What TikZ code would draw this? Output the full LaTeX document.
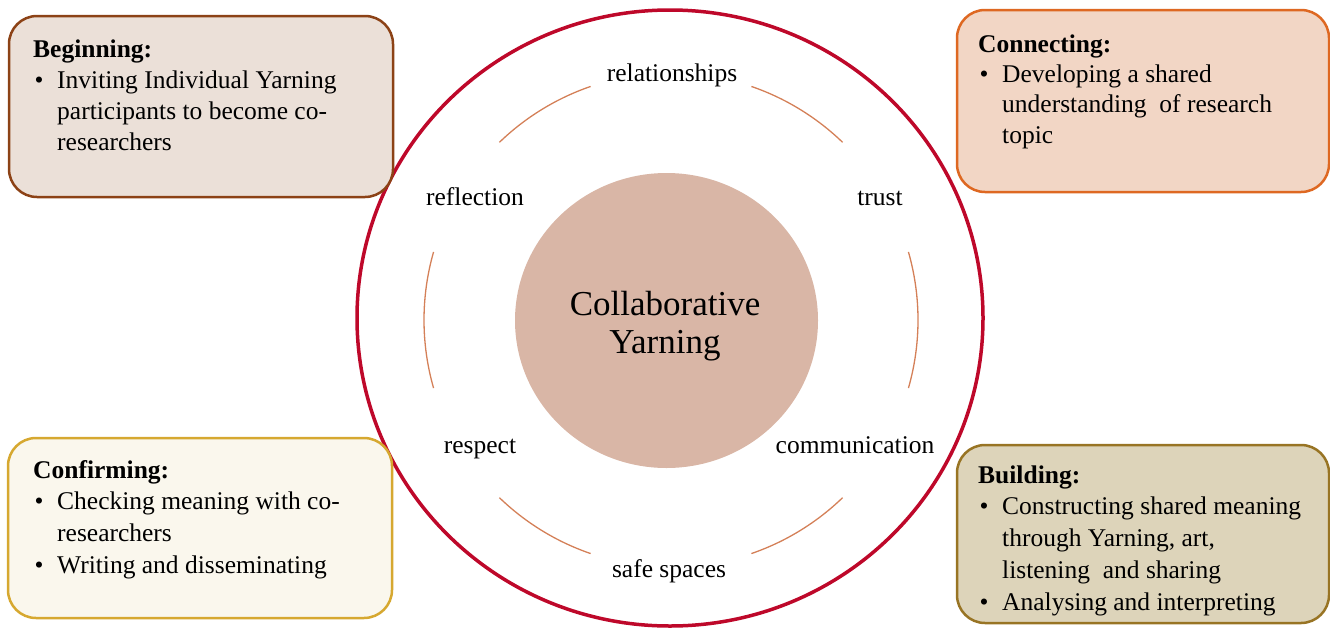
\documentclass[tikz,border=0pt]{standalone}
\usepackage{fontspec}
\setmainfont{Liberation Serif}
\usetikzlibrary{shapes.geometric}

\definecolor{ringred}{RGB}{190,8,42}
\definecolor{arccol}{RGB}{212,128,88}
\definecolor{hubfill}{RGB}{217,182,166}
\definecolor{begfill}{RGB}{235,224,216}
\definecolor{begline}{RGB}{140,66,22}
\definecolor{confill}{RGB}{242,214,197}
\definecolor{conline}{RGB}{222,104,34}
\definecolor{cfmfill}{RGB}{250,247,237}
\definecolor{cfmline}{RGB}{214,168,48}
\definecolor{bldfill}{RGB}{221,212,186}
\definecolor{bldline}{RGB}{152,116,36}

% bullet and hanging indent for the stage lists
\newcommand{\stbul}{\makebox[24pt][l]{\hspace{1.5pt}\textbullet}}
\newcommand{\stcont}{\hspace*{24pt}}
\newcommand{\stagetext}[2]{\parbox[t]{340pt}{\fontsize{25.5}{#1}\selectfont\raggedright #2}}

\tikzset{
  stagebox/.style={line width=2.5pt, rounded corners=28pt},
  ringarc/.style={draw=arccol, line width=1.3pt},
  value/.style={font=\fontsize{25.5}{30}\selectfont, inner sep=0pt, anchor=base},
  stagetxt/.style={inner sep=0pt, anchor=base west},
}

\begin{document}
\begin{tikzpicture}[x=1pt, y=-1pt]
\useasboundingbox (0,0) rectangle (1330,627);
\clip (0,0) rectangle (1330,627);

% outer ring
\draw[ringred, line width=3.5pt] (670,318) ellipse (313 and 308);

% hub
\node[ellipse, fill=hubfill, inner sep=0pt, minimum width=303pt, minimum height=295pt] (hub) at (666.5,320.5) {};
\node[inner sep=0pt, anchor=base] (hubtext) at (665,315)
  {\parbox[t]{260pt}{\centering\fontsize{35}{38.5}\selectfont Collaborative\\Yarning}};

% arcs between the values
\coordinate (rc) at (671,320);
\draw[ringarc] ([shift={(-134:247)}]rc) arc (-134:-109:247);
\draw[ringarc] ([shift={(-71:247)}]rc) arc (-71:-46:247);
\draw[ringarc] ([shift={(164:247)}]rc) arc (164:196:247);
\draw[ringarc] ([shift={(-16:247)}]rc) arc (-16:16:247);
\draw[ringarc] ([shift={(109:247)}]rc) arc (109:134:247);
\draw[ringarc] ([shift={(46:247)}]rc) arc (46:71:247);

% values
\node[value] (rel) at (672,81) {relationships};
\node[value] (refl) at (475,205) {reflection};
\node[value] (trust) at (880,205) {trust};
\node[value] (resp) at (480,453) {respect};
\node[value] (comm) at (855,453) {communication};
\node[value] (safe) at (669,577) {safe spaces};

% stage boxes
\draw[stagebox, draw=begline, fill=begfill] (9,16) rectangle (393,197);
\draw[stagebox, draw=conline, fill=confill] (957,10) rectangle (1329,192);
\draw[stagebox, draw=cfmline, fill=cfmfill] (8,438) rectangle (392,618);
\draw[stagebox, draw=bldline, fill=bldfill] (957,445) rectangle (1329,623);

\node[stagetxt] (begtxt) at (33,57) {\stagetext{31}{%
  \textbf{Beginning:}\\
  \stbul Inviting Individual Yarning\\
  \stcont participants to become co-\\
  \stcont researchers}};

\node[stagetxt] (contxt) at (978,52) {\stagetext{30.4}{%
  \textbf{Connecting:}\\
  \stbul Developing a shared\\
  \stcont understanding \ of research\\
  \stcont topic}};

\node[stagetxt] (cfmtxt) at (33,478) {\stagetext{31.7}{%
  \textbf{Confirming:}\\
  \stbul Checking meaning with co-\\
  \stcont researchers\\
  \stbul Writing and disseminating}};

\node[stagetxt] (bldtxt) at (978,483) {\stagetext{31.75}{%
  \textbf{Building:}\\
  \stbul Constructing shared meaning\\
  \stcont through Yarning, art,\\
  \stcont listening \ and sharing\\
  \stbul Analysing and interpreting}};
\end{tikzpicture}
\end{document}
